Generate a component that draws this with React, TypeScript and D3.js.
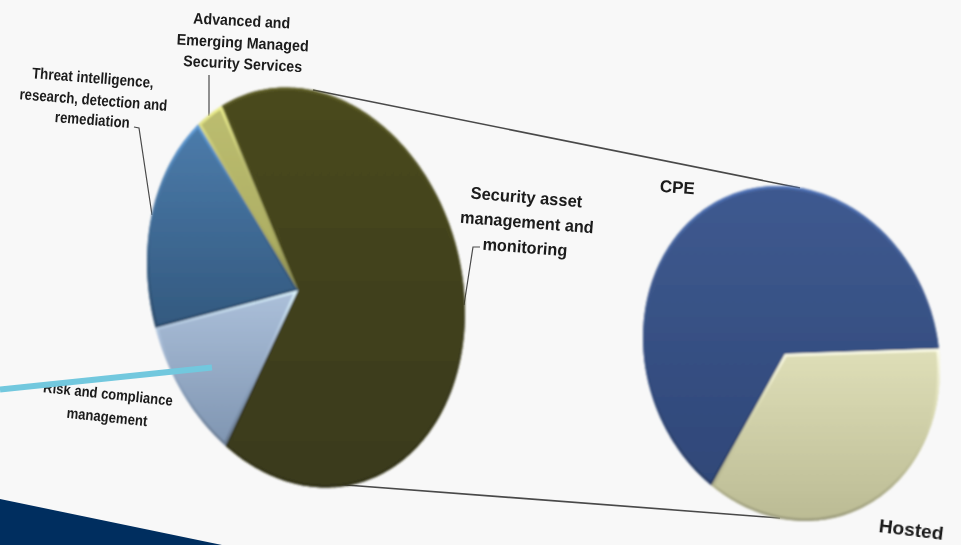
import React from "react";
import * as d3 from "d3";

// Main breakdown of the managed security market
const mainCategories = ["Security asset management and monitoring", "Risk and compliance management", "Threat intelligence, research, detection and remediation", "Advanced and Emerging Managed Security Services"];
const mainValues = [67.4, 11.3, 18.4, 2.9];
const mainTop = ["#49491f", "#acc0da", "#4c7cab", "#bcbd70"];
const mainBottom = ["#3a3a1b", "#7f95b1", "#33597f", "#a9aa60"];

// Secondary pie that expands the largest slice
const detailCategories = ["CPE", "Hosted"];
const detailValues = [64, 36];
const detailTop = ["#3f5a90", "#dfdfb8"];
const detailBottom = ["#2f4778", "#bbbb94"];

// Label wording, one entry per drawn line
const labelLines = [
  "Advanced and", "Emerging Managed", "Security Services",
  "Threat intelligence,", "research, detection and", "remediation",
  "Security asset", "management and", "monitoring",
  "Risk and compliance", "management",
  "CPE", "Hosted",
];

type Ellipse = { cx: number; cy: number; rx: number; ry: number; shear: number; apexX: number; apexY: number; start: number };

const mainEllipse: Ellipse = { cx: 306, cy: 287.5, rx: 157.7, ry: 200, shear: 20, apexX: 298, apexY: 290, start: -24.9 };
const detailEllipse: Ellipse = { cx: 791.5, cy: 353.5, rx: 147.8, ry: 167.5, shear: 14, apexX: 785, apexY: 354, start: 218 };

type Placement = { x: number; y: number; width: number; rotate: number; size: number };

const placements: Placement[] = [
  { x: 241.5, y: 26, width: 97, rotate: 3, size: 15.5 },
  { x: 242.5, y: 48, width: 132, rotate: 3, size: 15.5 },
  { x: 242.5, y: 69, width: 119, rotate: 3, size: 15.5 },
  { x: 92.5, y: 83, width: 122, rotate: 4.5, size: 15.5 },
  { x: 93, y: 105, width: 148, rotate: 4.5, size: 15.5 },
  { x: 92, y: 125, width: 75, rotate: 4.5, size: 15.5 },
  { x: 526, y: 203, width: 112, rotate: 4.5, size: 17 },
  { x: 526.5, y: 228, width: 134, rotate: 4.5, size: 17 },
  { x: 524.5, y: 253, width: 85, rotate: 4.5, size: 17 },
  { x: 107.5, y: 399, width: 130, rotate: 6, size: 15 },
  { x: 106.5, y: 422, width: 81, rotate: 6, size: 15 },
  { x: 677, y: 193, width: 35, rotate: 4, size: 17 },
  { x: 910.5, y: 536, width: 65, rotate: 7, size: 18 },
];

const leaders: [number, number][][] = [
  [[209, 75], [209, 116]],
  [[134, 127], [139, 128], [152, 215]],
  [[464, 305], [473, 247], [480, 247]],
];

const connectors: [number, number][][] = [
  [[313, 90], [800, 188]],
  [[333, 484], [780, 518]],
];

const line = d3.line<[number, number]>();

// Outline of a slice: apex, then the rim sampled in one-degree steps on a sheared ellipse
function slicePath(e: Ellipse, a0: number, a1: number): string {
  const steps = Math.max(2, Math.ceil(((a1 - a0) * 180) / Math.PI));
  const rim = d3.range(steps + 1).map((i): [number, number] => {
    const t = a0 + ((a1 - a0) * i) / steps;
    const u = Math.sin(t);
    const v = -Math.cos(t);
    return [e.cx + e.rx * u + e.shear * v, e.cy + e.ry * v];
  });
  return line([[e.apexX, e.apexY], ...rim, [e.apexX, e.apexY]]) + "Z";
}

function Pie({ id, e, values, top, bottom }: { id: string; e: Ellipse; values: number[]; top: string[]; bottom: string[] }) {
  const start = (e.start * Math.PI) / 180;
  const arcs = d3.pie<number>().sort(null).startAngle(start).endAngle(start + 2 * Math.PI)(values);
  return (
    <g filter="url(#soft)">
      {arcs.map((a, i) => {
        const d = slicePath(e, a.startAngle, a.endAngle);
        return (
          <g key={i}>
            <defs>
              <linearGradient id={`${id}-fill-${i}`} x1={0} x2={0} y1={0} y2={1}>
                <stop offset="0" stopColor={top[i]} />
                <stop offset="1" stopColor={bottom[i]} />
              </linearGradient>
              <linearGradient id={`${id}-edge-${i}`} x1={0} x2={0} y1={0} y2={1}>
                <stop offset="0" stopColor={d3.color(top[i])!.brighter(0.7).formatHex()} />
                <stop offset="0.3" stopColor={top[i]} />
                <stop offset="0.7" stopColor={bottom[i]} />
                <stop offset="1" stopColor={d3.color(bottom[i])!.darker(0.6).formatHex()} />
              </linearGradient>
              <clipPath id={`${id}-clip-${i}`}>
                <path d={d} />
              </clipPath>
            </defs>
            <path d={d} fill={`url(#${id}-fill-${i})`} />
            <path d={d} fill="none" stroke={`url(#${id}-edge-${i})`} strokeWidth={5} clipPath={`url(#${id}-clip-${i})`} />
          </g>
        );
      })}
    </g>
  );
}

export default function App() {
  return (
    <svg width={961} height={545} viewBox="0 0 961 545" style={{ position: "fixed", left: 0, top: 0, display: "block" }}>
      <defs>
        <filter id="soft" x="-5%" y="-5%" width="110%" height="110%">
          <feGaussianBlur stdDeviation="0.9" />
        </filter>
        <filter id="softText" x="-5%" y="-5%" width="110%" height="110%">
          <feGaussianBlur stdDeviation="0.5" />
        </filter>
      </defs>
      <rect width={961} height={545} fill="#f8f8f8" />
      <path d={line([[0, 499], [222, 545], [0, 545]]) + "Z"} fill="#062e5f" filter="url(#softText)" />

      <g fill="none" stroke="#4a4a4a" filter="url(#softText)">
        {connectors.map((c, i) => (
          <path key={i} d={line(c)!} strokeWidth={1.6} />
        ))}
        {leaders.map((l, i) => (
          <path key={i} d={line(l)!} strokeWidth={1.2} />
        ))}
      </g>

      <Pie id="main" e={mainEllipse} values={mainValues} top={mainTop} bottom={mainBottom} />
      <Pie id="detail" e={detailEllipse} values={detailValues} top={detailTop} bottom={detailBottom} />

      <g fontFamily="'Liberation Sans', Arial, sans-serif" fontWeight="bold" fill="#1a1a1a" textAnchor="middle" filter="url(#softText)">
        {labelLines.map((text, i) => {
          const p = placements[i];
          return (
            <text key={text} fontSize={p.size} transform={`translate(${p.x},${p.y}) rotate(${p.rotate})`} textLength={p.width} lengthAdjust="spacingAndGlyphs">
              {text}
            </text>
          );
        })}
      </g>

      <path d={line([[0, 389.5], [212, 367.5]])!} stroke="#72c8de" strokeWidth={6} fill="none" />
    </svg>
  );
}
